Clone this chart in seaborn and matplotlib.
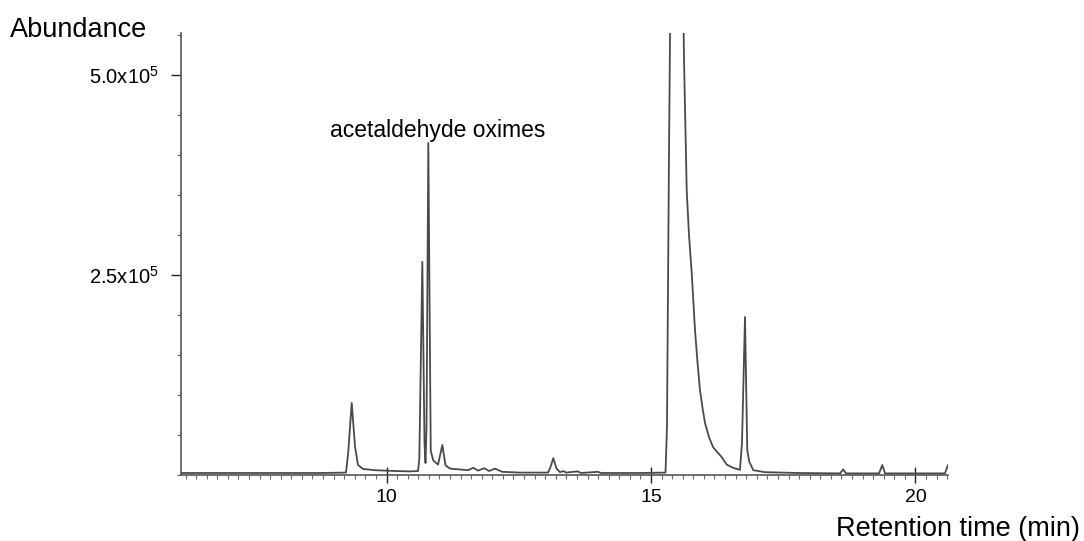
import numpy as np
import pandas as pd
import matplotlib
matplotlib.use("Agg")
import matplotlib.pyplot as plt
from matplotlib.ticker import MultipleLocator, FixedLocator
import seaborn as sns

# ----------------------------------------------------------
# Chromatogram trace
# ----------------------------------------------------------
retention_time = [
    6.115, 7.420, 8.743, 9.234, 9.278, 9.342, 9.405, 9.461, 9.556, 9.783,
    10.161, 10.444, 10.595, 10.620, 10.677, 10.718, 10.737, 10.756, 10.790, 10.836,
    10.885, 10.974, 11.055, 11.115, 11.200, 11.541, 11.641, 11.730, 11.849, 11.938,
    12.051, 12.183, 12.524, 13.053, 13.100, 13.153, 13.214, 13.280, 13.342, 13.393,
    13.614, 13.677, 13.993, 14.055, 14.792, 15.274, 15.302, 15.340, 15.369, 15.473,
    15.599, 15.624, 15.675, 15.718, 15.770, 15.832, 15.879, 15.926, 15.974, 16.021,
    16.096, 16.172, 16.248, 16.336, 16.431, 16.550, 16.682, 16.720, 16.777, 16.820,
    16.858, 16.934, 17.155, 17.817, 18.573, 18.635, 18.686, 19.311, 19.373, 19.424,
    20.558, 20.614,
]
abundance = [
    2500, 2500, 2500, 3000, 30000, 90000, 35000, 12500, 7500, 6000,
    5000, 4500, 5000, 20000, 266500, 40000, 15000, 60000, 415000, 30000,
    18000, 13000, 37500, 12000, 8000, 6000, 9000, 5500, 8500, 5000,
    8000, 4000, 3000, 3000, 10000, 21000, 8000, 3500, 5000, 3000,
    4500, 2500, 4000, 2500, 2500, 3000, 60000, 400000, 620000, 640000,
    640000, 520000, 356000, 300000, 252500, 181000, 141000, 106000, 84000, 65000,
    47500, 35000, 29000, 22500, 13000, 9000, 6500, 40000, 197500, 31000,
    16500, 6000, 3500, 2500, 2000, 7000, 2000, 2000, 12500, 2000,
    2000, 12500,
]

y_ticks = [2.5e5, 5.0e5]
y_tick_labels = [r"2.5x10$^5$", r"5.0x10$^5$"]
x_ticks = [10, 15, 20]

df = pd.DataFrame({"time": retention_time, "abundance": abundance})

# ----------------------------------------------------------
# Style
# ----------------------------------------------------------
sns.set_style("white")
plt.rcParams["font.family"] = ["Liberation Sans", "DejaVu Sans"]
plt.rcParams["mathtext.fontset"] = "custom"
plt.rcParams["mathtext.rm"] = "Liberation Sans"
plt.rcParams["mathtext.it"] = "Liberation Sans:italic"
plt.rcParams["text.color"] = "black"

fig = plt.figure(figsize=(10.84, 5.41), dpi=100)
ax = fig.add_axes([0.167, 0.122, 0.7075, 0.817])

sns.lineplot(data=df, x="time", y="abundance", ax=ax, estimator=None,
             sort=False, color="#4a4a4a", linewidth=1.3)

ax.set_xlim(6.115, 20.614)
ax.set_ylim(0, 552500)

ax.xaxis.set_major_locator(FixedLocator(x_ticks))
ax.xaxis.set_minor_locator(MultipleLocator(0.2))
ax.set_xticklabels([str(t) for t in x_ticks])
ax.yaxis.set_major_locator(FixedLocator(y_ticks))
ax.yaxis.set_minor_locator(MultipleLocator(0.5e5))
ax.set_yticklabels(y_tick_labels)

ax.tick_params(which="both", bottom=True, left=True, labelcolor="black")
ax.tick_params(axis="x", which="major", direction="inout", length=12,
               width=1, color="#222222", labelsize=14, pad=4)
ax.tick_params(axis="x", which="minor", direction="out", length=3,
               width=0.8, color="#666666")
ax.tick_params(axis="y", which="major", direction="out", length=7,
               width=1, color="#222222", labelsize=14.5, pad=9)
ax.tick_params(axis="y", which="minor", direction="out", length=3,
               width=0.8, color="#666666")

for side in ["top", "right"]:
    ax.spines[side].set_visible(False)
for side in ["left", "bottom"]:
    ax.spines[side].set_color("#555555")
    ax.spines[side].set_linewidth(1.2)

ax.set_xlabel("")
ax.set_ylabel("")

ax.text(8.93, 422500, "acetaldehyde oximes", fontsize=16.5,
        ha="left", va="baseline")

fig.text(0.009, 1 - 37 / 541, "Abundance", fontsize=19.5,
         ha="left", va="baseline")
fig.text(0.996, 1 - 536 / 541, "Retention time (min)", fontsize=19.5,
         ha="right", va="baseline")

plt.savefig("out.png", dpi=100)
